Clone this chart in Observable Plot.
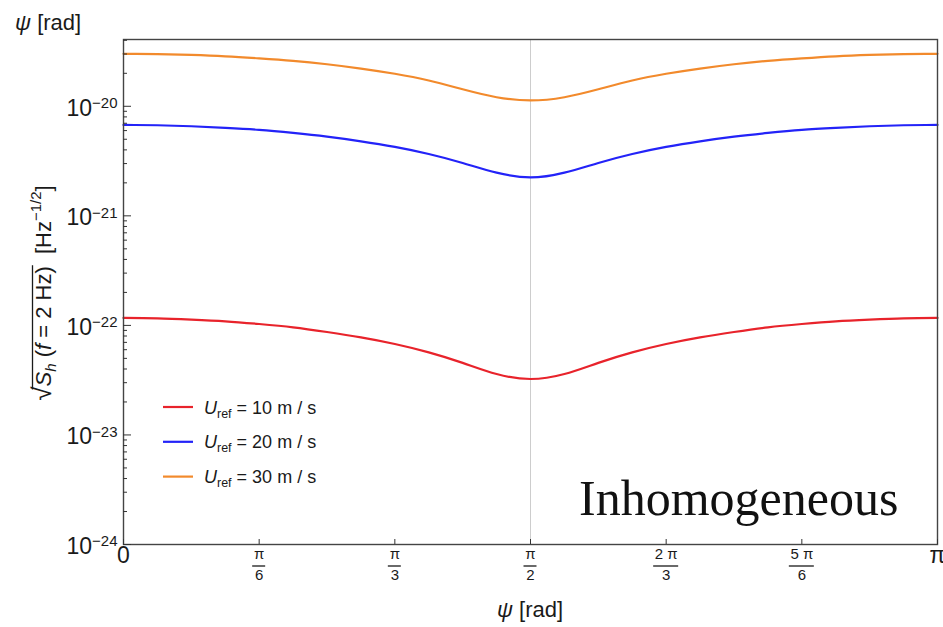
<!DOCTYPE html>
<html><head><meta charset="utf-8">
<script src="https://cdn.jsdelivr.net/npm/d3@7"></script>
<script src="https://cdn.jsdelivr.net/npm/@observablehq/plot@0.6"></script>
<style>body{margin:0;background:#fff;} svg{display:block;overflow:visible}</style>
</head><body><div id="chart"></div>
<script>
const PI = Math.PI;
// sample positions: psi = k * pi / 24
const kSteps = [0,1,2,3,4,5,6,7,8,9,10,11,12,13,14,15,16,17,18,19,20,21,22,23,24];
const seriesNames = ["U_ref = 10 m / s", "U_ref = 20 m / s", "U_ref = 30 m / s"];
const seriesSpeeds = ["10", "20", "30"];
const seriesColors = ["#e8232b", "#2323f8", "#f28a2c"];
const red = [1.17e-22,1.16e-22,1.13e-22,1.09e-22,1.03e-22,9.6e-23,8.7e-23,7.77e-23,6.76e-23,5.67e-23,4.55e-23,3.6e-23,3.24e-23,
             3.6e-23,4.55e-23,5.67e-23,6.76e-23,7.77e-23,8.7e-23,9.6e-23,1.03e-22,1.09e-22,1.13e-22,1.16e-22,1.17e-22];
const blue = [6.76e-21,6.71e-21,6.57e-21,6.35e-21,6.09e-21,5.71e-21,5.28e-21,4.79e-21,4.26e-21,3.67e-21,3.04e-21,2.48e-21,2.24e-21,
              2.48e-21,3.04e-21,3.67e-21,4.26e-21,4.79e-21,5.28e-21,5.71e-21,6.09e-21,6.35e-21,6.57e-21,6.71e-21,6.76e-21];
const orange = [3.01e-20,2.99e-20,2.94e-20,2.86e-20,2.74e-20,2.60e-20,2.42e-20,2.21e-20,1.98e-20,1.72e-20,1.43e-20,1.21e-20,1.13e-20,
                1.21e-20,1.43e-20,1.72e-20,1.98e-20,2.21e-20,2.42e-20,2.60e-20,2.74e-20,2.86e-20,2.94e-20,2.99e-20,3.01e-20];
const yTop = 4.07e-20;
const yBottom = 1e-24;
const yMajor = [1e-24, 1e-23, 1e-22, 1e-21, 1e-20];
const xTickValues = [0, PI/6, PI/3, PI/2, 2*PI/3, 5*PI/6, PI];
const xTickWhole = ["0", null, null, null, null, null, "π"];
const xTickNum = [null, "π", "π", "π", "2 π", "5 π", null];
const xTickDen = [null, "6", "3", "2", "3", "6", null];

const yMinor = d3.range(-24, -19).flatMap(e => d3.range(2, 10).map(m => m * Math.pow(10, e))).filter(v => v < yTop);
const allSeries = [red, blue, orange];
const data = [];
allSeries.forEach((vals, si) => vals.forEach((v, i) => data.push({psi: kSteps[i] * PI / 24, v, s: seriesNames[si]})));
const xt = xTickValues.map((v, i) => ({v, whole: xTickWhole[i], num: xTickNum[i], den: xTickDen[i]}));

const plot = Plot.plot({
  width: 943, height: 627,
  marginLeft: 123, marginRight: 6, marginTop: 39, marginBottom: 83,
  x: {domain: [0, PI], label: null},
  y: {type: "log", domain: [yBottom, yTop], label: null},
  color: {domain: seriesNames, range: seriesColors},
  style: {fontFamily: "'Liberation Sans', Arial, sans-serif", fontSize: "21px", background: "#fff", color: "#1a1a1a"},
  marks: [
    Plot.ruleX([PI/2], {stroke: "#cdcdcd", strokeWidth: 1}),
    Plot.line(data, {x: "psi", y: "v", stroke: "s", strokeWidth: 2.2, curve: "natural"}),
    Plot.frame({stroke: "#444", strokeWidth: 1.4}),
    Plot.axisY(yMinor, {anchor: "left", tickSize: 4, dx: 4, tickFormat: () => "", label: null, stroke: "#333"}),
    Plot.axisY(yMajor, {anchor: "left", tickSize: 8, dx: 8, tickFormat: () => "", label: null, stroke: "#333"}),
    Plot.axisY(yMajor, {anchor: "left", tickSize: 0, tickPadding: 6, dy: 2, label: null, fontSize: 23,
      tickFormat: d => String(Math.round(Math.log10(d)))}),
    Plot.axisX(xTickValues, {anchor: "bottom", tickSize: 5, dy: -5, tickFormat: () => "", label: null, stroke: "#333"}),
    Plot.text(xt.filter(d => d.whole), {x: "v", text: "whole", frameAnchor: "bottom", dy: 18, fontSize: 23}),
    Plot.text(xt.filter(d => d.num), {x: "v", text: "num", frameAnchor: "bottom", dy: 14, fontSize: 15}),
    Plot.text(xt.filter(d => d.den), {x: "v", text: "den", frameAnchor: "bottom", dy: 35, fontSize: 15})
  ]
});
document.getElementById("chart").appendChild(plot);

const svg = d3.select(plot);
const xs = plot.scale("x");
const ys = plot.scale("y");
const bottomY = ys.range[0];

// superscripts on y tick labels
svg.selectAll('g[aria-label="y-axis tick label"] text').each(function() {
  const t = this.textContent;
  if (!t) return;
  const sel = d3.select(this);
  sel.text(null);
  sel.append("tspan").text("10");
  sel.append("tspan").attr("dy", "-0.5em").attr("font-size", "15px").text(t.replace("-", "−"));
});

// fraction bars
xt.filter(d => d.num).forEach(d => {
  const px = xs.apply(d.v);
  const w = d.num.length > 1 ? 25 : 13;
  svg.append("line").attr("x1", px - w/2).attr("x2", px + w/2)
    .attr("y1", bottomY + 22).attr("y2", bottomY + 22)
    .attr("stroke", "#1a1a1a").attr("stroke-width", 1.3);
});

// axis titles
function psiLabel(x, y, anchor) {
  const t = svg.append("text").attr("x", x).attr("y", y).attr("text-anchor", anchor)
    .attr("font-size", 22).attr("fill", "#1a1a1a");
  t.append("tspan").attr("font-style", "italic").text("ψ");
  t.append("tspan").text(" [rad]");
}
psiLabel(15, 30, "start");
psiLabel(xs.apply(PI/2), 617, "middle");

// y label (rotated)
const g = svg.append("g").attr("transform", "translate(51, 293) rotate(-90)");
const yl = g.append("text").attr("text-anchor", "middle").attr("font-size", 22).attr("fill", "#1a1a1a");
yl.append("tspan").attr("font-size", 26).text("√");
yl.append("tspan").attr("font-style", "italic").text("S");
yl.append("tspan").attr("font-style", "italic").attr("font-size", 15).attr("dy", 5).text("h");
yl.append("tspan").attr("dy", -5).text(" (");
yl.append("tspan").attr("font-style", "italic").text("f");
yl.append("tspan").text(" = 2 Hz)");
yl.append("tspan").text("  [Hz");
yl.append("tspan").attr("font-size", 15).attr("dy", -10).text("−1/2");
yl.append("tspan").attr("dy", 10).text("]");
try {
  const node = yl.node();
  const full = node.textContent;
  const closeIdx = full.indexOf(")");
  const s0 = node.getStartPositionOfChar(1).x;
  const s1 = node.getEndPositionOfChar(closeIdx).x;
  g.append("line").attr("x1", s0 - 3).attr("x2", s1 + 1).attr("y1", -18.5).attr("y2", -18.5)
    .attr("stroke", "#1a1a1a").attr("stroke-width", 1.3);
} catch (e) {}

// legend
seriesNames.forEach((name, i) => {
  const y = 407 + i * 34.8;
  svg.append("line").attr("x1", 163).attr("x2", 193).attr("y1", y).attr("y2", y)
    .attr("stroke", seriesColors[i]).attr("stroke-width", 2.2);
  const t = svg.append("text").attr("x", 204).attr("y", y + 6.5).attr("text-anchor", "start")
    .attr("font-size", 18).attr("fill", "#1a1a1a");
  t.append("tspan").attr("font-style", "italic").text("U");
  t.append("tspan").attr("font-size", 12.5).attr("dy", 4).text("ref");
  t.append("tspan").attr("dy", -4).text(" = " + seriesSpeeds[i] + " m / s");
});

// annotation
svg.append("text").attr("x", 579).attr("y", 515).attr("text-anchor", "start")
  .attr("font-family", "'Liberation Serif', serif")
  .attr("font-size", 50).attr("fill", "#111").text("Inhomogeneous");
</script>
</body></html>
